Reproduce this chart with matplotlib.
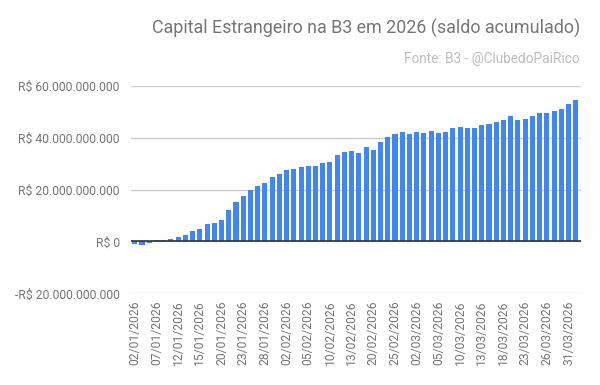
import matplotlib
matplotlib.use("Agg")
import matplotlib.pyplot as plt

dates = [
    "02/01/2026", "05/01/2026", "06/01/2026", "07/01/2026", "08/01/2026", "09/01/2026",
    "12/01/2026", "13/01/2026", "14/01/2026", "15/01/2026", "16/01/2026", "19/01/2026",
    "20/01/2026", "21/01/2026", "22/01/2026", "23/01/2026", "26/01/2026", "27/01/2026",
    "28/01/2026", "29/01/2026", "30/01/2026",
    "02/02/2026", "03/02/2026", "04/02/2026", "05/02/2026", "06/02/2026", "09/02/2026",
    "10/02/2026", "11/02/2026", "12/02/2026", "13/02/2026", "18/02/2026", "19/02/2026",
    "20/02/2026", "23/02/2026", "24/02/2026", "25/02/2026", "26/02/2026", "27/02/2026",
    "02/03/2026", "03/03/2026", "04/03/2026", "05/03/2026", "06/03/2026", "09/03/2026",
    "10/03/2026", "11/03/2026", "12/03/2026", "13/03/2026", "16/03/2026", "17/03/2026",
    "18/03/2026", "19/03/2026", "20/03/2026", "23/03/2026", "24/03/2026", "25/03/2026",
    "26/03/2026", "27/03/2026", "30/03/2026", "31/03/2026", "01/04/2026",
]

# saldo acumulado, em bilhões de R$
saldo_bi = [
    -1.0, -1.4, -0.6, 0.4, 0.5, 1.0, 1.8, 2.6, 4.1, 4.9, 6.9, 7.3, 8.3, 12.2, 15.3,
    17.6, 20.0, 21.4, 22.6, 24.8, 26.0, 27.7, 28.0, 28.7, 29.1, 29.1, 30.3, 30.6,
    33.3, 34.5, 34.9, 34.1, 36.4, 35.3, 38.3, 40.2, 41.4, 42.2, 41.4, 42.2, 41.8,
    42.6, 41.8, 42.2, 43.8, 44.1, 43.8, 43.8, 45.0, 45.3, 46.1, 46.9, 48.4, 46.9,
    47.3, 48.4, 49.6, 49.6, 50.4, 51.1, 53.0, 54.5,
]

y_ticks = [-20e9, 0, 20e9, 40e9, 60e9]
y_tick_labels = ["-R$ 20.000.000.000", "R$ 0", "R$ 20.000.000.000",
                 "R$ 40.000.000.000", "R$ 60.000.000.000"]

title = "Capital Estrangeiro na B3 em 2026 (saldo acumulado)"
subtitle = "Fonte: B3 - @ClubedoPaiRico"

plt.rcParams['font.family'] = ['Roboto', 'DejaVu Sans']

fig = plt.figure(figsize=(6.0, 3.85), dpi=100)
ax = fig.add_axes([0.218, 0.238, 0.75, 0.539])

values = [v * 1e9 for v in saldo_bi]
x = list(range(len(dates)))
ax.bar(x, values, width=0.7, color="#4285F4", zorder=3)

ax.set_ylim(-20e9, 60e9)
ax.set_xlim(-0.55, len(dates) - 0.3)
ax.set_yticks(y_ticks)
ax.set_yticklabels(y_tick_labels)
ax.yaxis.grid(True, color="#cccccc", linewidth=1, zorder=0)
ax.axhline(0, color="#333333", linewidth=1.2, zorder=4)

ax.set_xticks(x[::3])
ax.set_xticklabels(dates[::3], rotation=90)

for s in ax.spines.values():
    s.set_visible(False)
ax.tick_params(axis="both", length=0, labelsize=8.7, labelcolor="#757575")
ax.tick_params(axis="y", pad=8)
ax.tick_params(axis="x", pad=5)

fig.text(0.9667, 0.925, title, ha="right", va="center", fontsize=12.9, color="#757575")
fig.text(0.9667, 0.848, subtitle, ha="right", va="center", fontsize=9.8, color="#bdbdbd")

fig.savefig("out.png", dpi=100)
